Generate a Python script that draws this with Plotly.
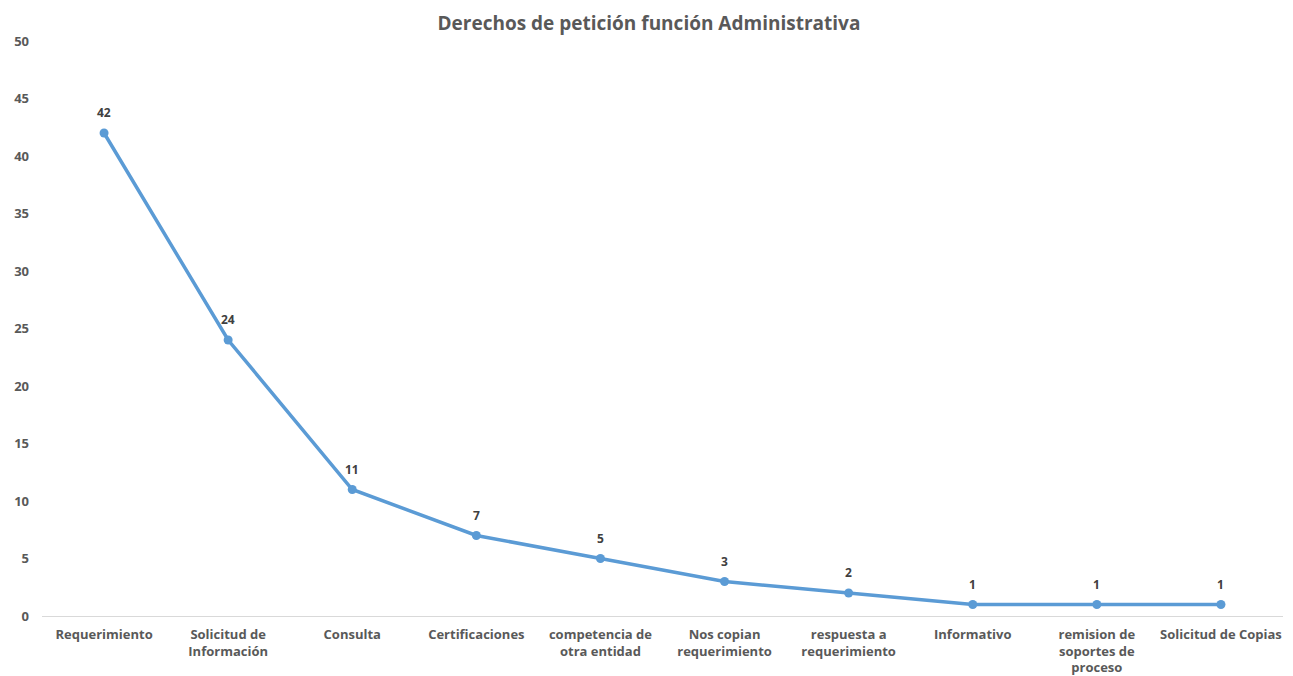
import plotly.graph_objects as go

categories = ["Requerimiento", "Solicitud de<br>Información", "Consulta", "Certificaciones",
              "competencia de<br>otra entidad", "Nos copian<br>requerimiento",
              "respuesta a<br>requerimiento", "Informativo",
              "remision de<br>soportes de<br>proceso", "Solicitud de Copias"]
values = [42, 24, 11, 7, 5, 3, 2, 1, 1, 1]
y_ticks = [0, 5, 10, 15, 20, 25, 30, 35, 40, 45, 50]

fig = go.Figure(go.Scatter(
    x=categories, y=values, mode="lines+markers",
    line=dict(color="#5B9BD5", width=3.5),
    marker=dict(color="#5B9BD5", size=9),
    cliponaxis=False, showlegend=False,
))

for c, v in zip(categories, values):
    fig.add_annotation(x=c, y=v, text=f"<b>{v}</b>", showarrow=False,
                       yanchor="bottom", yshift=10,
                       font=dict(family="Open Sans", size=12, color="#404040"))

fig.update_layout(
    width=1293, height=676,
    margin=dict(l=34, r=18, t=33, b=68),
    paper_bgcolor="white", plot_bgcolor="white",
    title=dict(text="<b>Derechos de petición función Administrativa</b>",
               x=0.4957, xref="container", xanchor="center", y=0.978, yanchor="middle",
               font=dict(family="Open Sans", size=19, color="#595959")),
    font=dict(family="Open Sans", size=12, color="#595959"),
    xaxis=dict(type="category", showgrid=False, showline=True, linecolor="#D9D9D9",
               linewidth=1, ticks="", ticklabelstandoff=6, automargin=False,
               tickfont=dict(size=13, color="#595959", weight="bold"),
               range=[-0.5, 9.5]),
    yaxis=dict(range=[0, 50], tickvals=y_ticks, showgrid=False, zeroline=False,
               showline=False, ticks="", ticklabelstandoff=12, automargin=False,
               tickfont=dict(size=13, color="#595959", weight="bold")),
)

fig.write_html("out.html")
